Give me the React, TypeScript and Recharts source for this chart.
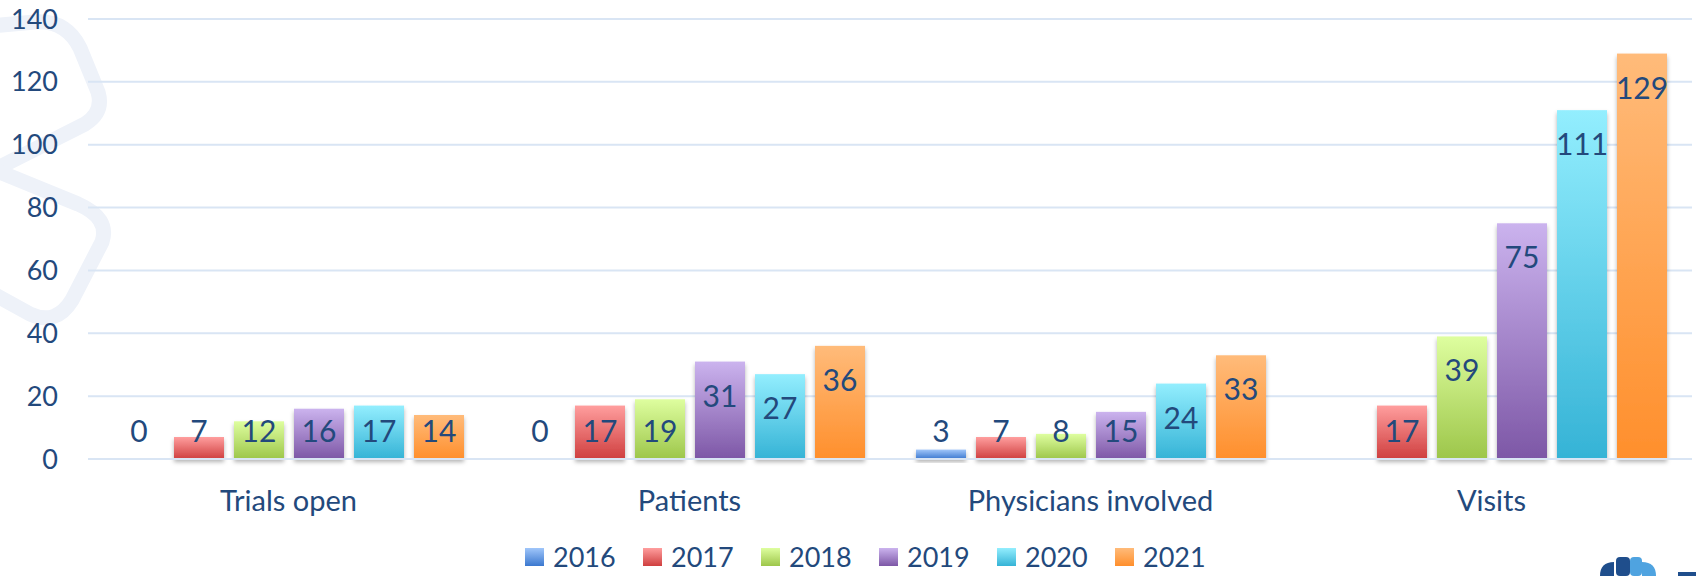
import { Bar, BarChart, CartesianGrid, LabelList, Legend, XAxis, YAxis } from "recharts";

const categories = ["Trials open", "Patients", "Physicians involved", "Visits"];
const years = ["2016", "2017", "2018", "2019", "2020", "2021"];
const values2016 = [0, 0, 3, null];
const values2017 = [7, 17, 7, 17];
const values2018 = [12, 19, 8, 39];
const values2019 = [16, 31, 15, 75];
const values2020 = [17, 27, 24, 111];
const values2021 = [14, 36, 33, 129];
const yTicks = [0, 20, 40, 60, 80, 100, 120, 140];

const seriesValues = [values2016, values2017, values2018, values2019, values2020, values2021];

// light top -> darker bottom, like the office gradient fill
const gradients: [string, string][] = [
  ["#a0c6fa", "#3b78cf"],
  ["#ff9e9e", "#cf3f3f"],
  ["#defe9f", "#9dc64a"],
  ["#cbb3ee", "#7d57a6"],
  ["#93eefe", "#35b3d6"],
  ["#ffbb7a", "#ff8f2c"],
];

const data = categories.map((name, i) => {
  const row: Record<string, string | number | null> = { name };
  years.forEach((y, s) => {
    row[y] = seriesValues[s][i];
  });
  return row;
});

const ink = "#23497c";
const font = "Lato, 'Open Sans', sans-serif";

function GradientBar(props: any) {
  const { x, y, width, height } = props;
  if (!height || height <= 0) return null;
  return (
    <rect
      x={x}
      y={y}
      width={width}
      height={height}
      fill={`url(#grad${props.seriesIndex})`}
      filter="url(#barShadow)"
    />
  );
}

function BarLabel(props: any) {
  const { x, y, width, height, value } = props;
  if (value === null || value === undefined) return null;
  const base = y + height;
  const cy = Math.min(y + 33, base - 29);
  return (
    <text
      x={x + width / 2}
      y={cy}
      textAnchor="middle"
      dominantBaseline="central"
      fill={ink}
      fontSize={30}
      fontFamily={font}
    >
      {value}
    </text>
  );
}

function LegendRow() {
  return (
    <div style={{ display: "flex", paddingLeft: 525, marginTop: 8, height: 55, alignItems: "center", fontFamily: font }}>
      {years.map((y, s) => (
        <div key={y} style={{ display: "flex", alignItems: "center", width: 118 }}>
          <svg width={19} height={18} style={{ marginRight: 9 }}>
            <rect width={19} height={18} fill={`url(#lgrad${s})`} />
            <defs>
              <linearGradient id={`lgrad${s}`} x1="0" y1="0" x2="0" y2="1">
                <stop offset="0%" stopColor={gradients[s][0]} />
                <stop offset="100%" stopColor={gradients[s][1]} />
              </linearGradient>
            </defs>
          </svg>
          <span style={{ fontSize: 27, color: ink, lineHeight: "24px" }}>{y}</span>
        </div>
      ))}
    </div>
  );
}

export default function App() {
  return (
    <div style={{ position: "absolute", left: 0, top: 0, width: 1696, height: 576, background: "#fff", overflow: "hidden" }}>
      <svg width={1696} height={576} style={{ position: "absolute", left: 0, top: 0 }}>
        <g fill="none" stroke="#eef2f9" strokeWidth={15} strokeLinecap="round" strokeLinejoin="round">
          <path d="M -10 26 L 35 22 Q 66 20 80 48 L 98 92 Q 104 112 85 124 L -10 172" />
          <path d="M -10 168 L 78 204 Q 110 218 102 242 L 72 300 Q 56 326 30 314 L -10 292" />
        </g>
        <g>
          <path d="M 1600 576 Q 1600 562 1614 562 L 1614 576 Z" fill="#1f4e8c" />
          <rect x={1616} y={557} width={14} height={19} rx={4} fill="#1f4e8c" />
          <rect x={1630} y={557} width={12} height={19} rx={4} fill="#4fa3e0" />
          <path d="M 1642 562 Q 1656 562 1656 576 L 1642 576 Z" fill="#4fa3e0" />
          <rect x={1678} y={572} width={18} height={4} fill="#1f4e8c" />
        </g>
      </svg>
      <div style={{ position: "absolute", left: 0, top: 0 }}>
        <BarChart
          width={1696}
          height={576}
          data={data}
          margin={{ top: 19, right: 4, left: 0, bottom: 0 }}
          barSize={50}
          barGap={10}
        >
          <defs>
            {gradients.map((g, s) => (
              <linearGradient key={s} id={`grad${s}`} x1="0" y1="0" x2="0" y2="1">
                <stop offset="0%" stopColor={g[0]} />
                <stop offset="100%" stopColor={g[1]} />
              </linearGradient>
            ))}
            <filter id="barShadow" x="-20%" y="-20%" width="140%" height="160%">
              <feDropShadow dx="0" dy="3" stdDeviation="2" floodColor="#000" floodOpacity="0.3" />
            </filter>
          </defs>
          <CartesianGrid vertical={false} stroke="#d9e5f4" strokeWidth={2} />
          <XAxis
            dataKey="name"
            height={62}
            axisLine={{ stroke: "#d9e5f4", strokeWidth: 2 }}
            tickLine={false}
            tickSize={0}
            tickMargin={31}
            tick={{ fontSize: 29, fill: ink, fontFamily: font }}
            interval={0}
          />
          <YAxis
            width={88}
            domain={[0, 140]}
            ticks={yTicks}
            axisLine={false}
            tickLine={false}
            tickSize={0}
            tickMargin={30}
            tick={{ fontSize: 27, fill: ink, fontFamily: font }}
          />
          <Legend verticalAlign="bottom" height={55} content={() => <LegendRow />} />
          {years.map((y, s) => (
            <Bar
              key={y}
              dataKey={y}
              isAnimationActive={false}
              fill={gradients[s][1]}
              shape={(p: any) => <GradientBar {...p} seriesIndex={s} />}
            >
              <LabelList dataKey={y} content={BarLabel} />
            </Bar>
          ))}
        </BarChart>
      </div>
    </div>
  );
}
